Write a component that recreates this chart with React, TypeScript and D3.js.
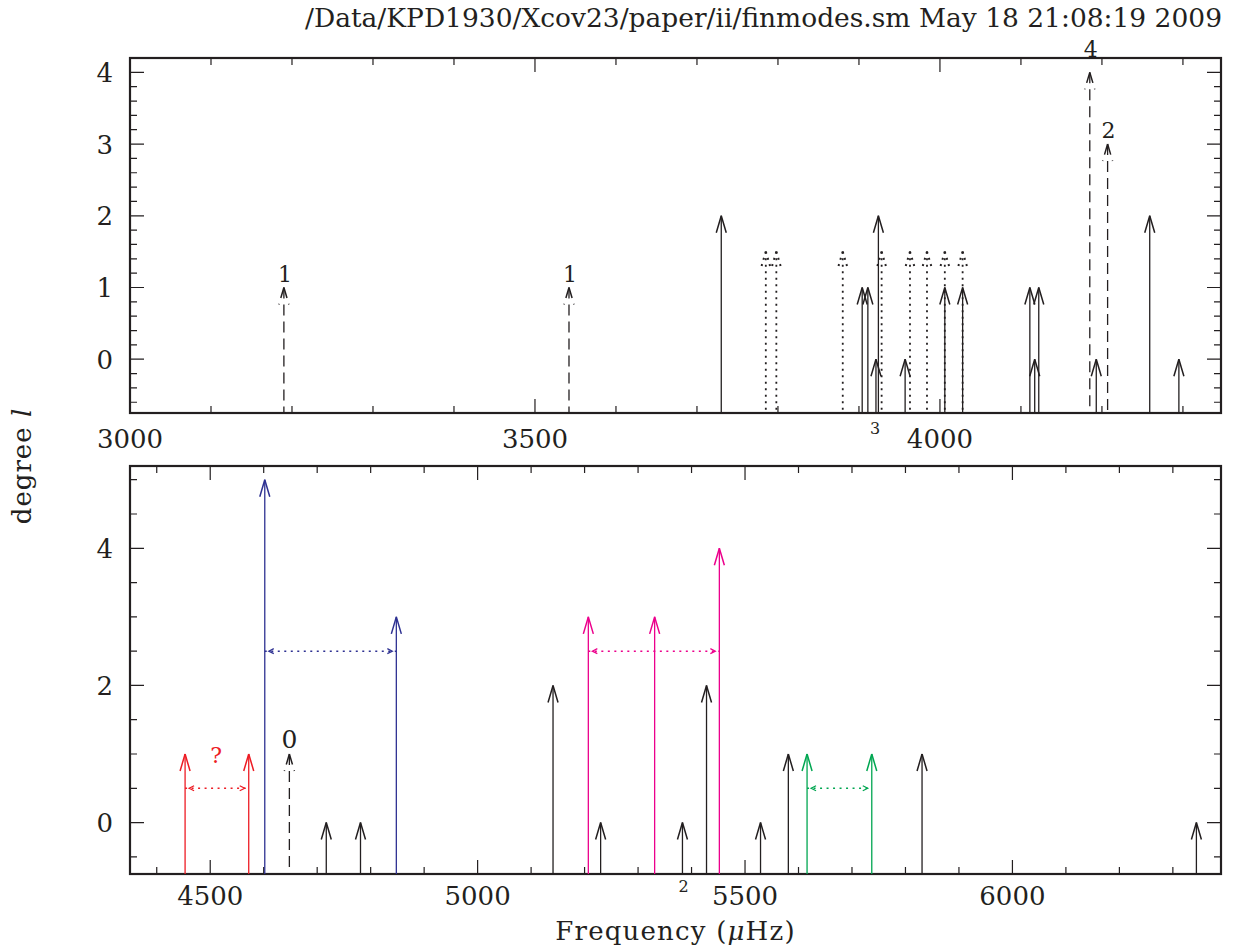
import React from 'react'
import * as d3 from 'd3'

const title = '/Data/KPD1930/Xcov23/paper/ii/finmodes.sm May 18 21:08:19 2009'

// upper panel: 3000 - 4350 microHz
const topSolidFreq = [3730, 3904, 3911, 3921, 3924, 3957, 4006, 4028, 4111, 4117, 4122, 4193, 4259, 4295]
const topSolidDeg = [2, 1, 1, 0, 2, 0, 1, 1, 1, 0, 1, 0, 2, 0]
const topDashedFreq = [3190, 3542, 4185, 4207]
const topDashedDeg = [1, 1, 4, 3]
const topDashedLabel = ['1', '1', '4', '2']
const topDashedLabelAt = [1.08, 1.08, 4.22, 3.08]
const topDottedFreq = [3785, 3798, 3880, 3928, 3963, 3984, 4006, 4028]
const topDottedDeg = [1.5, 1.5, 1.5, 1.5, 1.5, 1.5, 1.5, 1.5]
const topXTicks = [3000, 3500, 4000]
const topYTicks = [0, 1, 2, 3, 4]

// lower panel: 4350 - 6390 microHz
const botSolidFreq = [4717, 4781, 5141, 5230, 5383, 5428, 5529, 5581, 5831, 6344]
const botSolidDeg = [0, 0, 2, 0, 0, 2, 0, 1, 1, 0]
const botDashedFreq = [4648]
const botDashedDeg = [1]
const botDashedLabel = ['0']
const botDashedLabelAt = [1.09]

const redFreq = [4453, 4572]
const redDeg = [1, 1]
const blueFreq = [4602, 4848]
const blueDeg = [5, 3]
const magentaFreq = [5207, 5331, 5452]
const magentaDeg = [3, 3, 4]
const greenFreq = [5616, 5737]
const greenDeg = [1, 1]

// multiplet connectors
const links = [
  { from: 4453, to: 4572, at: 0.5, color: '#ed1c24' },
  { from: 4602, to: 4848, at: 2.5, color: '#2e3192' },
  { from: 5207, to: 5452, at: 2.5, color: '#ec008c' },
  { from: 5616, to: 5737, at: 0.5, color: '#00a651' },
]

const botXTicks = [4500, 5000, 5500, 6000]
const botYTicks = [0, 2, 4]

const ink = '#231f20'
const font = '"DejaVu Serif", serif'

const W = 1239
const H = 948
const left = 130
const right = 1221

const xTop = d3.scaleLinear().domain([3000, 4347]).range([left, right])
const yTop = d3.scaleLinear().domain([-0.75, 4.2]).range([413, 58])
const xBot = d3.scaleLinear().domain([4350, 6390]).range([left, right])
const yBot = d3.scaleLinear().domain([-0.75, 5.2]).range([874, 466])

type Sc = d3.ScaleLinear<number, number>

function Arrow({ x, tip, base, color, dash, w = 1.3 }: { x: number; tip: number; base: number; color: string; dash?: string; w?: number }) {
  return (
    <g fill="none" stroke={color} strokeWidth={w} strokeDasharray={dash}>
      <path d={`M${x},${tip}V${base}`} />
      <path d={`M${x},${tip}L${x - 5},${tip + 17}M${x},${tip}L${x + 5},${tip + 17}`} strokeWidth={w + 0.2} />
    </g>
  )
}

function Link({ x1, x2, y, color }: { x1: number; x2: number; y: number; color: string }) {
  return (
    <g fill="none" stroke={color} strokeWidth={1.5}>
      <path d={`M${x1},${y}H${x2}`} strokeDasharray="2,4.5" />
      <path d={`M${x1 + 9},${y - 2.5}L${x1 + 4},${y}L${x1 + 9},${y + 2.5}`} strokeWidth={1.2} />
      <path d={`M${x2 - 9},${y - 2.5}L${x2 - 4},${y}L${x2 - 9},${y + 2.5}`} strokeWidth={1.2} />
    </g>
  )
}

function Frame({ x, y, xMinor, yMinor, xMajor, yMajor }: { x: Sc; y: Sc; xMinor: number; yMinor: number; xMajor: number; yMajor: number }) {
  const [x0, x1] = x.domain()
  const [y0, y1] = y.domain()
  const top = y.range()[1]
  const bot = y.range()[0]
  const xs = d3.range(Math.ceil(x0 / xMinor) * xMinor, x1 + 1e-6, xMinor)
  const ys = d3.range(Math.ceil(y0 / yMinor - 1e-6) * yMinor, y1 + 1e-6, yMinor)
  const isMaj = (v: number, m: number) => Math.abs(v / m - Math.round(v / m)) < 1e-6
  return (
    <g stroke={ink} fill="none">
      {xs.map((v) => {
        const len = isMaj(v, xMajor) ? 14 : 7
        const px = x(v)
        return <path key={'x' + v} d={`M${px},${bot}v${-len}M${px},${top}v${len}`} strokeWidth={1.2} />
      })}
      {ys.map((v) => {
        const len = isMaj(v, yMajor) ? 14 : 7
        const py = y(v)
        return <path key={'y' + v} d={`M${left},${py}h${len}M${right},${py}h${-len}`} strokeWidth={1.2} />
      })}
      <rect x={left} y={top} width={right - left} height={bot - top} strokeWidth={2.2} />
    </g>
  )
}

export default function App() {
  const topBase = yTop.range()[0]
  const botBase = yBot.range()[0]
  return (
    <svg width={W} height={H} style={{ position: 'absolute', left: 0, top: 0, background: '#fff' }} fontFamily={font}>
      <text x={1222} y={27} textAnchor="end" fontSize={26} fill={ink} textLength={917} lengthAdjust="spacingAndGlyphs">
        {title}
      </text>

      {/* upper panel */}
      <Frame x={xTop} y={yTop} xMinor={100} yMinor={0.2} xMajor={500} yMajor={1} />
      {topXTicks.map((v) => (
        <text key={v} x={xTop(v)} y={448} textAnchor="middle" fontSize={26} fill={ink}>{v}</text>
      ))}
      {topYTicks.map((v) => (
        <text key={v} x={113} y={yTop(v) + 9.5} textAnchor="end" fontSize={26} fill={ink}>{v}</text>
      ))}
      {topDottedFreq.map((f, i) => (
        <Arrow key={'td' + i} x={xTop(f)} tip={yTop(topDottedDeg[i])} base={topBase} color={ink} dash="2,4.5" w={1.8} />
      ))}
      {topSolidFreq.map((f, i) => (
        <Arrow key={'ts' + i} x={xTop(f)} tip={yTop(topSolidDeg[i])} base={topBase} color={ink} />
      ))}
      {topDashedFreq.map((f, i) => (
        <g key={'tk' + i}>
          <Arrow x={xTop(f)} tip={yTop(topDashedDeg[i])} base={topBase} color={ink} dash="11,6" />
          <text x={xTop(f) + 1} y={yTop(topDashedLabelAt[i])} textAnchor="middle" fontSize={22} fill={ink}>
            {topDashedLabel[i]}
          </text>
        </g>
      ))}
      <text x={xTop(3920)} y={434} textAnchor="middle" fontSize={16} fill={ink}>3</text>

      {/* lower panel */}
      <Frame x={xBot} y={yBot} xMinor={100} yMinor={0.5} xMajor={500} yMajor={2} />
      {botXTicks.map((v) => (
        <text key={v} x={xBot(v)} y={905} textAnchor="middle" fontSize={26} fill={ink}>{v}</text>
      ))}
      {botYTicks.map((v) => (
        <text key={v} x={113} y={yBot(v) + 9.5} textAnchor="end" fontSize={26} fill={ink}>{v}</text>
      ))}
      {botSolidFreq.map((f, i) => (
        <Arrow key={'bs' + i} x={xBot(f)} tip={yBot(botSolidDeg[i])} base={botBase} color={ink} />
      ))}
      {botDashedFreq.map((f, i) => (
        <g key={'bk' + i}>
          <Arrow x={xBot(f)} tip={yBot(botDashedDeg[i])} base={botBase} color={ink} dash="11,6" />
          <text x={xBot(f)} y={yBot(botDashedLabelAt[i])} textAnchor="middle" fontSize={25} fill={ink}>
            {botDashedLabel[i]}
          </text>
        </g>
      ))}
      {redFreq.map((f, i) => (
        <Arrow key={'r' + i} x={xBot(f)} tip={yBot(redDeg[i])} base={botBase} color="#ed1c24" />
      ))}
      {blueFreq.map((f, i) => (
        <Arrow key={'b' + i} x={xBot(f)} tip={yBot(blueDeg[i])} base={botBase} color="#2e3192" />
      ))}
      {magentaFreq.map((f, i) => (
        <Arrow key={'m' + i} x={xBot(f)} tip={yBot(magentaDeg[i])} base={botBase} color="#ec008c" />
      ))}
      {greenFreq.map((f, i) => (
        <Arrow key={'g' + i} x={xBot(f)} tip={yBot(greenDeg[i])} base={botBase} color="#00a651" />
      ))}
      {links.map((l, i) => (
        <Link key={'l' + i} x1={xBot(l.from)} x2={xBot(l.to)} y={yBot(l.at)} color={l.color} />
      ))}
      <text x={xBot(4511)} y={yBot(0.875)} textAnchor="middle" fontSize={22} fill="#ed1c24">?</text>
      <text x={xBot(5385)} y={892} textAnchor="middle" fontSize={16} fill={ink}>2</text>

      {/* axis titles */}
      <text x={(left + right) / 2} y={940} textAnchor="middle" fontSize={26} fill={ink} letterSpacing={1.2}>
        Frequency (<tspan fontStyle="italic">μ</tspan>Hz)
      </text>
      <text transform={`translate(31,466) rotate(-90)`} textAnchor="middle" fontSize={26} fill={ink} letterSpacing={1}>
        degree <tspan fontStyle="italic">l</tspan>
      </text>
    </svg>
  )
}
